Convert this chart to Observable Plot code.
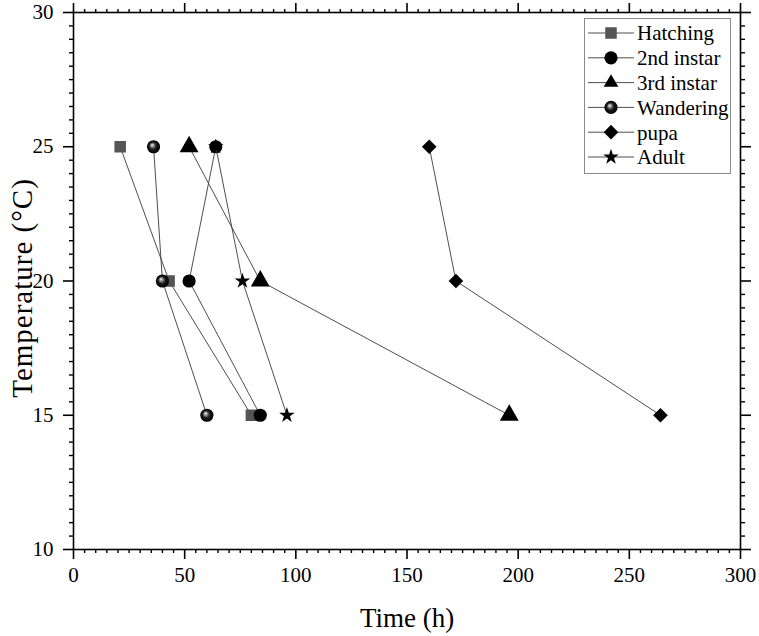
<!DOCTYPE html>
<html>
<head>
<meta charset="utf-8">
<script src="https://cdn.jsdelivr.net/npm/d3@7"></script>
<script src="https://cdn.jsdelivr.net/npm/@observablehq/plot@0.6"></script>
<style>
  html, body { margin: 0; padding: 0; background: #fff; }
  #chart svg { display: block; }
  #chart svg text { font-family: "Liberation Serif", "Times New Roman", serif !important; }
</style>
</head>
<body>
<div id="chart"></div>
<script>
// Development time (h) of each stage at three rearing temperatures
const temperatures = [25, 20, 15];
const stages = ["Hatching", "2nd instar", "3rd instar", "Wandering", "pupa", "Adult"];
const hatching  = [21, 43, 80];
const instar2   = [64, 52, 84];
const instar3   = [52, 84, 196];
const wandering = [36, 40, 60];
const pupa      = [160, 172, 264];
const adult     = [64, 76, 96];

const xTicks = [0, 50, 100, 150, 200, 250, 300];
const yTicks = [10, 15, 20, 25, 30];

const seriesValues = [hatching, instar2, instar3, wandering, pupa, adult];

// marker look for each stage
const markerStyle = {
  "Hatching":   {symbol: "square",   fill: "#555555", r: 6.5},
  "2nd instar": {symbol: "circle",   fill: "#000000", r: 6.6},
  "3rd instar": {symbol: "triangle", fill: "#000000", r: 7.0},
  "Wandering":  {symbol: "circle",   fill: "url(#sphere)", r: 6.6},
  "pupa":       {symbol: "diamond2", fill: "#000000", r: 6.6},
  "Adult":      {symbol: "star",     fill: "#000000", r: 4.9}
};

const rows = stages.flatMap((stage, i) =>
  temperatures.map((t, j) => ({stage, temp: t, time: seriesValues[i][j]}))
);

const font = "Liberation Serif, Times New Roman, serif";

const marks = [];
for (const stage of stages) {
  const data = rows.filter(d => d.stage === stage);
  const s = markerStyle[stage];
  marks.push(Plot.line(data, {x: "time", y: "temp", stroke: "#3a3a3a", strokeWidth: 0.9}));
  marks.push(Plot.dot(data, {x: "time", y: "temp", symbol: () => s.symbol, fill: s.fill, stroke: "none", r: s.r}));
}

const minorX = d3.range(0, 301, 5).filter(v => v % 50 !== 0);
const minorY = d3.range(10, 30.01, 0.5).filter(v => v % 5 !== 0);
const blank = () => "";

const chart = Plot.plot({
  width: 759,
  height: 636,
  marginLeft: 73,
  marginRight: 19,
  marginTop: 12,
  marginBottom: 87,
  style: {fontFamily: font, fontSize: "21px", color: "#000", background: "#fff"},
  symbol: {type: "identity"},
  x: {domain: [0, 300]},
  y: {domain: [10, 30]},
  marks: [
    Plot.frame({stroke: "#000", strokeWidth: 1.6}),
    Plot.axisX({anchor: "bottom", ticks: xTicks, tickSize: 10, tickPadding: 8, strokeWidth: 1.6, label: null, fontSize: 21}),
    Plot.axisX({anchor: "bottom", ticks: minorX, tickSize: 4, tickFormat: blank, strokeWidth: 1.4, label: null}),
    Plot.axisX({anchor: "top", ticks: xTicks, tickSize: 10, tickFormat: blank, strokeWidth: 1.6, label: null}),
    Plot.axisX({anchor: "top", ticks: minorX, tickSize: 4, tickFormat: blank, strokeWidth: 1.4, label: null}),
    Plot.axisY({anchor: "left", ticks: yTicks, tickSize: 10, tickPadding: 10, strokeWidth: 1.6, label: null, fontSize: 21}),
    Plot.axisY({anchor: "left", ticks: minorY, tickSize: 4, tickFormat: blank, strokeWidth: 1.4, label: null}),
    Plot.axisY({anchor: "right", ticks: yTicks, tickSize: 10, tickFormat: blank, strokeWidth: 1.6, label: null}),
    Plot.axisY({anchor: "right", ticks: minorY, tickSize: 4, tickFormat: blank, strokeWidth: 1.4, label: null}),
    Plot.text(["Time (h)"], {frameAnchor: "bottom", textAnchor: "middle", dy: 77, fontSize: 27, fill: "#000"}),
    Plot.text(["Temperature (°C)"], {frameAnchor: "left", textAnchor: "middle", lineAnchor: "middle", dx: -51, dy: 7, rotate: -90, fontSize: 29, fill: "#000"}),
    ...marks
  ]
});

const svg = d3.select(chart);

// slight extra tracking on the vertical axis title
svg.selectAll("text")
  .filter(function() { return this.textContent === "Temperature (°C)"; })
  .attr("letter-spacing", 1);

// shaded ball used for the Wandering marker
const defs = svg.insert("defs", ":first-child");
const grad = defs.append("radialGradient")
  .attr("id", "sphere")
  .attr("cx", "0.5").attr("cy", "0.5").attr("r", "0.5")
  .attr("fx", "0.38").attr("fy", "0.35");
grad.append("stop").attr("offset", "0").attr("stop-color", "#ffffff");
grad.append("stop").attr("offset", "0.22").attr("stop-color", "#9a9a9a");
grad.append("stop").attr("offset", "0.55").attr("stop-color", "#1a1a1a");
grad.append("stop").attr("offset", "1").attr("stop-color", "#000000");

// legend box inside the top-right corner of the frame
const symbolTypes = {
  square: d3.symbolSquare, circle: d3.symbolCircle, triangle: d3.symbolTriangle2,
  diamond2: d3.symbolDiamond2, star: d3.symbolStar
};
const lg = svg.append("g")
  .attr("font-family", font).attr("font-size", 21).attr("text-anchor", "start");
lg.append("rect")
  .attr("x", 584.5).attr("y", 18.5).attr("width", 146).attr("height", 155)
  .attr("fill", "#fff").attr("stroke", "#8a8a8a").attr("stroke-width", 1);
stages.forEach((stage, i) => {
  const s = markerStyle[stage];
  const cy = 33 + i * 24.8;
  const row = lg.append("g").attr("transform", `translate(0,${cy})`);
  row.append("line").attr("x1", 588).attr("x2", 634).attr("y1", 0).attr("y2", 0)
    .attr("stroke", "#3a3a3a").attr("stroke-width", 0.9);
  row.append("path")
    .attr("transform", "translate(611,0)")
    .attr("d", d3.symbol(symbolTypes[s.symbol], Math.PI * s.r * s.r)())
    .attr("fill", s.fill);
  row.append("text").attr("x", 637).attr("y", 0).attr("dy", "0.35em")
    .attr("text-anchor", "start").attr("fill", "#000").text(stage);
});

document.getElementById("chart").appendChild(chart);
</script>
</body>
</html>
